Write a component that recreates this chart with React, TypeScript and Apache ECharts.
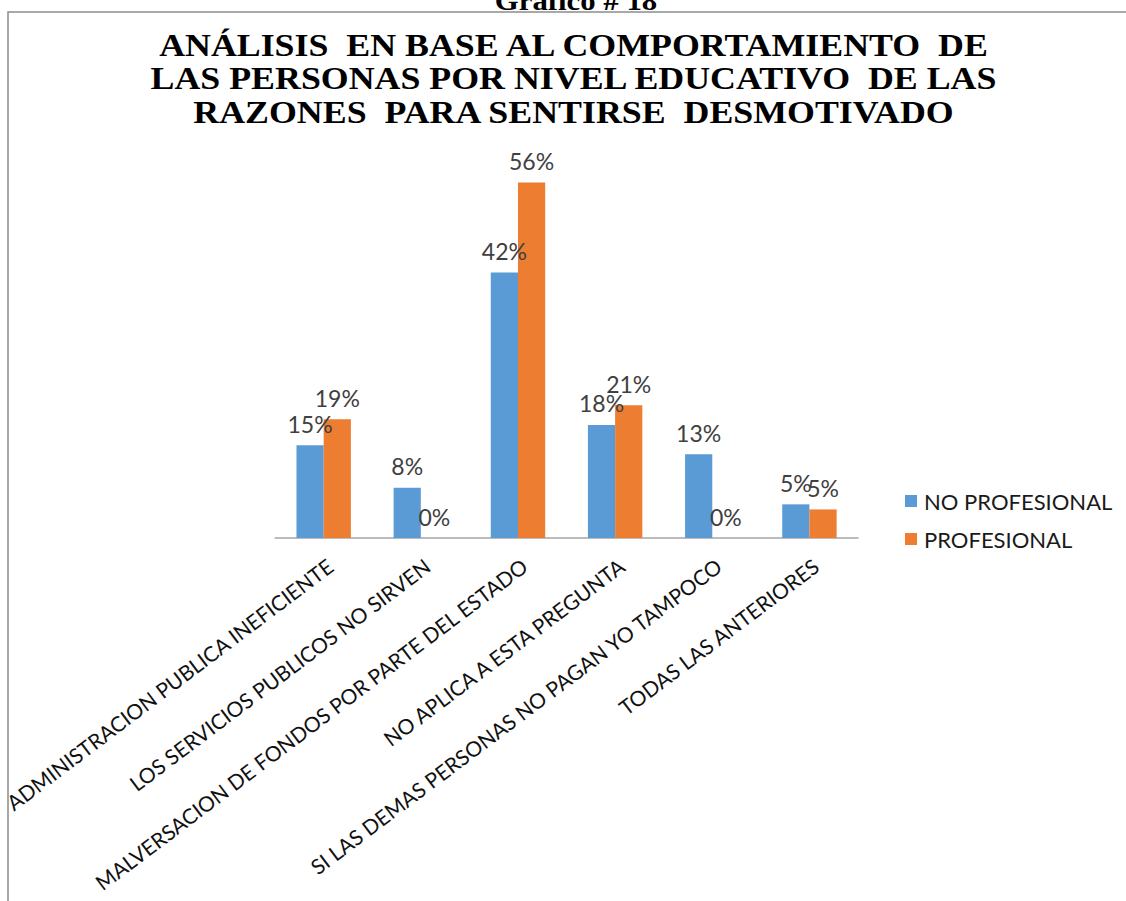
import React, { useEffect, useRef } from "react";
import * as echarts from "echarts";

const categories = [
  "ADMINISTRACION PUBLICA INEFICIENTE",
  "LOS SERVICIOS PUBLICOS NO SIRVEN",
  "MALVERSACION DE FONDOS POR PARTE DEL ESTADO",
  "NO APLICA A ESTA PREGUNTA",
  "SI LAS DEMAS PERSONAS NO PAGAN YO TAMPOCO",
  "TODAS LAS ANTERIORES",
];
const seriesNames = ["NO PROFESIONAL", "PROFESIONAL"];
const noProfesional = [14.6, 7.9, 41.8, 17.8, 13.2, 5.3];
const profesional = [18.7, 0, 56, 20.9, 0, 4.5];
const seriesColors = ["#5B9BD5", "#ED7D31"];
const titleLines = [
  "ANÁLISIS  EN BASE AL COMPORTAMIENTO  DE",
  "LAS PERSONAS POR NIVEL EDUCATIVO  DE LAS",
  "RAZONES  PARA SENTIRSE  DESMOTIVADO",
];
const caption = "Gráfico # 18";

export default function App() {
  const ref = useRef<HTMLDivElement>(null);
  useEffect(() => {
    if (!ref.current) return;
    const chart = echarts.init(ref.current, undefined, { renderer: "svg" });
    const label = {
      show: true,
      position: "top",
      distance: 10,
      formatter: (p: any) => Math.round(p.value) + "%",
      fontFamily: "Lato",
      fontSize: 23,
      color: "#404040",
    };
    chart.setOption({
      animation: false,
      backgroundColor: "#ffffff",
      color: seriesColors,
      grid: { left: 272, right: 268, top: 157, bottom: 363, containLabel: false },
      xAxis: {
        type: "category",
        data: categories,
        axisLine: { lineStyle: { color: "#a6a6a6", width: 1.5 } },
        axisTick: { show: false },
        axisLabel: {
          rotate: 37,
          interval: 0,
          margin: 30,
          padding: [0, -8, 0, 0],
          fontFamily: "Lato",
          fontSize: 21,
          color: "#111111",
        },
      },
      yAxis: { type: "value", min: 0, max: 60, show: false },
      legend: {
        orient: "vertical",
        left: 900,
        top: 485,
        itemWidth: 12,
        itemHeight: 12,
        itemGap: 16,
        icon: "rect",
        data: seriesNames,
        textStyle: {
          fontFamily: "Lato",
          fontSize: 22,
          color: "#1a1a1a",
          padding: [0, 0, 0, 2],
        },
      },
      series: [
        {
          type: "bar",
          name: seriesNames[0],
          data: noProfesional,
          barGap: "0%",
          barCategoryGap: "44%",
          label,
        },
        {
          type: "bar",
          name: seriesNames[1],
          data: profesional,
          barGap: "0%",
          barCategoryGap: "44%",
          label,
        },
      ],
      graphic: [
        {
          type: "rect",
          silent: true,
          z: -10,
          shape: { x: 8, y: 12, width: 1140, height: 920 },
          style: { fill: "none", stroke: "#8c8c8c", lineWidth: 1.5 },
        },
        {
          type: "group",
          x: 576,
          y: 0,
          scaleX: 1.1,
          children: [
            {
              type: "text",
              x: 0,
              y: 0,
              style: {
                text: caption,
                fontFamily: "Liberation Serif",
                fontWeight: "bold",
                fontSize: 28,
                fill: "#000",
                align: "center",
                verticalAlign: "middle",
              },
            },
          ],
        },
        {
          type: "group",
          x: 573.5,
          y: 28,
          scaleX: 1.12,
          children: [
            {
              type: "text",
              x: 0,
              y: 0,
              style: {
                text: titleLines.join("\n"),
                fontFamily: "Liberation Serif",
                fontWeight: "bold",
                fontSize: 32,
                lineHeight: 33.5,
                fill: "#000",
                align: "center",
                verticalAlign: "top",
              },
            },
          ],
        },
      ],
    });
    return () => chart.dispose();
  }, []);
  return (
    <div
      ref={ref}
      style={{ position: "absolute", left: 0, top: 0, width: 1126, height: 901 }}
    />
  );
}
